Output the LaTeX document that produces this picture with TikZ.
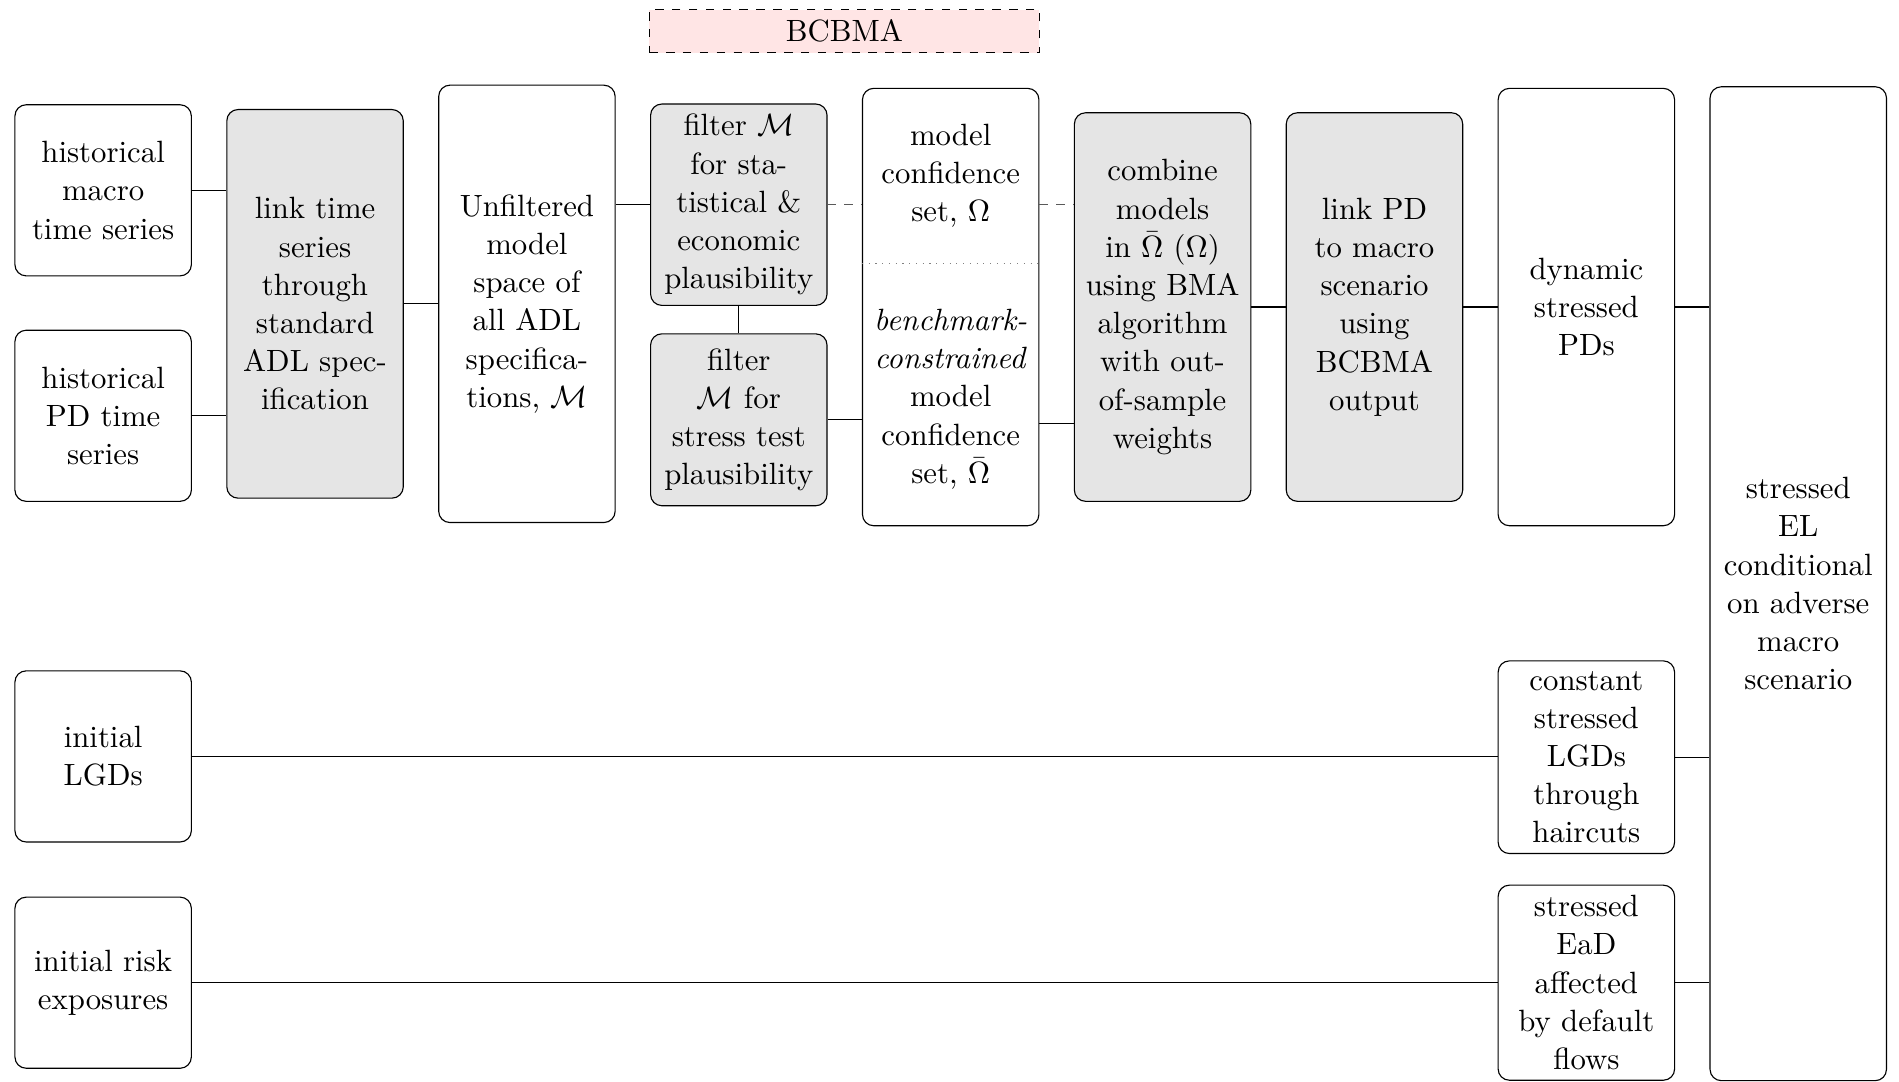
\documentclass[tikz,border=0pt,11pt]{standalone}
\usepackage{amsmath}
\usepackage{tikz}
\usetikzlibrary{calc,
                positioning}
\tikzset{
        base/.style={draw, rounded corners, align=center, text width=1.95cm},
        data/.style={base, minimum height=2.14cm},
        proc/.style={base, fill=gray!20},
        tall/.style={base, minimum height=5.47cm},
        mid/.style={proc, minimum height=4.86cm},
        txt/.style={align=center, text width=1.95cm},
        dashlink/.style={dashed, black!65},
 }

\begin{document}
\begin{tikzpicture}
    \useasboundingbox (0,0) rectangle (23.75,-13.53);

    \node[draw, dashed, fill=red!10, minimum width=4.88cm, minimum height=0.525cm]
         (bcbma) at (10.56,-0.39) {BCBMA};

    \node[data] (macro) at (1.29,-2.38) {historical\\ macro\\ time series};
    \node[data] (pdts) at (1.29,-5.20) {historical\\ PD time\\ series};
    \node[mid] (linkts) at (3.94,-3.80) {link time\\ series\\ through\\ standard\\ ADL spec-\\ ification};
    \node[tall] (unfilt) at (6.59,-3.80) {Unfiltered\\ model\\ space of\\ all ADL\\ specifica-\\ tions, $\mathcal{M}$};
    \node[proc] (filtsta) at (9.24,-2.56) {filter $\mathcal{M}$\\ for sta-\\ tistical \&\\ economic\\ plausibility};
    \node[proc, minimum height=2.15cm] (filtstr) at (9.24,-5.25) {filter\\ $\mathcal{M}$ for\\ stress test\\ plausibility};
    \node[tall] (mcs) at (11.89,-3.84) {};
    \coordinate (split) at (11.89,-3.30);
    \node[txt] (mcsup) at ($(mcs.north)!0.5!(split)$) {model\\ confidence\\ set, $\Omega$};
    \node[txt] (mcslo) at ($(mcs.south)!0.5!(split)+(0,-0.05)$) {\textit{benchmark-}\\ \textit{constrained}\\ model\\ confidence\\ set, $\bar{\Omega}$};
    \node[mid] (combine) at (14.54,-3.84) {combine\\ models\\ in $\bar{\Omega}$ ($\Omega$)\\ using BMA\\ algorithm\\ with out-\\ of-sample\\ weights};
    \node[mid] (linkpd) at (17.19,-3.84) {link PD\\ to macro\\ scenario\\ using\\ BCBMA\\ output};
    \node[tall] (dynpd) at (19.84,-3.84) {dynamic\\ stressed\\ PDs};
    \node[base, minimum height=12.43cm] (el) at (22.49,-7.30) {stressed\\ EL\\ conditional\\ on adverse\\ macro\\ scenario};

    \node[data] (lgd) at (1.29,-9.46) {initial\\ LGDs};
    \node[data] (riskexp) at (1.29,-12.29) {initial risk\\ exposures};
    \node[base] (stlgd) at (19.84,-9.47) {constant\\ stressed\\ LGDs\\ through\\ haircuts};
    \node[base] (stead) at (19.84,-12.29) {stressed\\ EaD\\ affected\\ by default\\ flows};

    \draw[dotted, gray] (mcs.west |- split) -- (mcs.east |- split);

    \draw (macro.east) -- (macro.east -| linkts.west);
    \draw (pdts.east) -- (pdts.east -| linkts.west);
    \draw (linkts.east) -- (linkts.east -| unfilt.west);
    \draw (filtsta.west -| unfilt.east) -- (filtsta.west);
    \draw (filtsta.south) -- (filtstr.north);
    \draw[dashlink] (filtsta.east) -- (filtsta.east -| mcs.west);
    \draw[dashlink] (filtsta.east -| mcs.east) -- (filtsta.east -| combine.west);
    \draw (filtstr.east) -- (filtstr.east -| mcs.west);
    \draw ($(filtstr.east -| mcs.east)+(0,-0.05)$) -- ($(filtstr.east -| combine.west)+(0,-0.05)$);
    \draw (combine.east) -- (linkpd.west);
    \draw (linkpd.east) -- (dynpd.west);
    \draw (dynpd.east) -- (dynpd.east -| el.west);
    \draw (lgd.east) -- (lgd.east -| stlgd.west);
    \draw (stlgd.east) -- (stlgd.east -| el.west);
    \draw (riskexp.east) -- (riskexp.east -| stead.west);
    \draw (stead.east) -- (stead.east -| el.west);
\end{tikzpicture}
\end{document}
